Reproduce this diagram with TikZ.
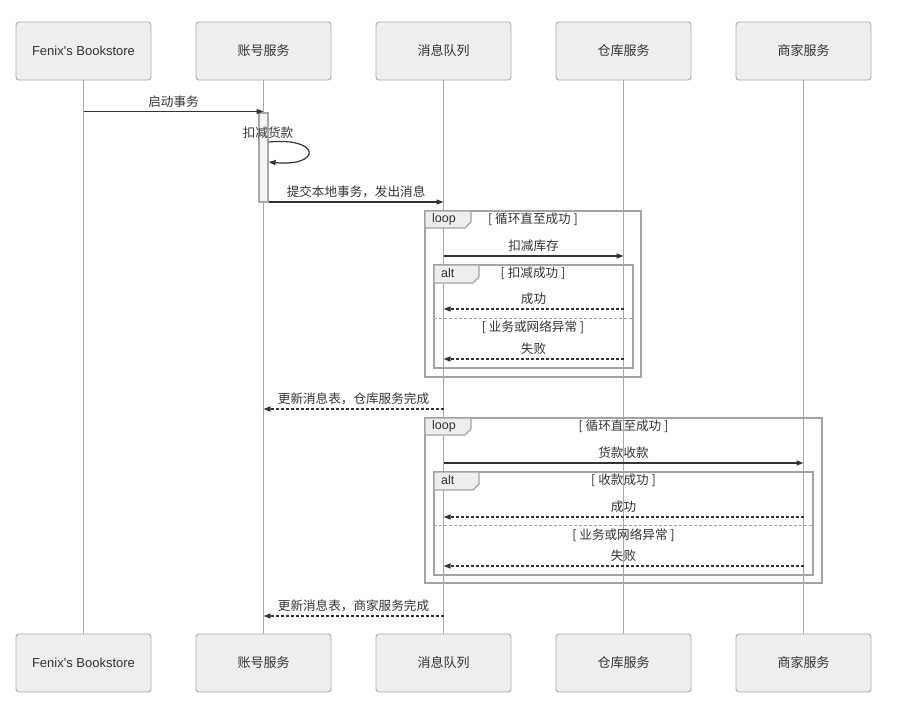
\documentclass[tikz,border=0pt]{standalone}
\usepackage{fontspec}
\setmainfont{Noto Sans CJK SC}
\newfontfamily\latinfont{Liberation Sans}
\usepackage{tikz}
\usetikzlibrary{arrows.meta, positioning}
\definecolor{boxfill}{HTML}{EEEEEE}
\definecolor{boxline}{HTML}{ABABAB}
\definecolor{ink}{HTML}{333333}
\definecolor{lifeline}{HTML}{A8A8A8}
\definecolor{framecol}{HTML}{A3A3A3}
\definecolor{actfill}{HTML}{F4F4F4}
\tikzset{
  actor/.style={
    rectangle, rounded corners=3pt,
    draw=boxline, line width=0.9pt,
    fill=boxfill, text=ink,
    minimum width=135pt, minimum height=58pt,
    inner sep=0pt, outer sep=0pt, font=\fontsize{13}{15}\selectfont
  },
  act/.style={
    rectangle, draw=lifeline, line width=1.2pt,
    fill=actfill, minimum width=9pt, minimum height=89pt,
    inner sep=0pt
  },
  life/.style={draw=lifeline, line width=0.8pt},
  msg/.style={-{Triangle[length=7pt,width=5pt]}, draw=ink, line width=1.2pt},
  ret/.style={msg, dash pattern=on 3pt off 2pt},
  lbl/.style={font=\fontsize{12.6}{14}\selectfont, text=ink, inner sep=0pt, midway, yshift=10pt},
  txt/.style={font=\fontsize{12.6}{14}\selectfont, text=ink, inner sep=0pt},
  kw/.style={font=\latinfont\fontsize{12.5}{14}\selectfont, text=ink, inner sep=0pt, anchor=west},
  frame/.style={draw=framecol, line width=1.5pt},
  tab/.style={draw=framecol, line width=1.2pt, fill=boxfill},
  sep/.style={draw=framecol, line width=1pt, dash pattern=on 3pt off 2pt}
}
\begin{document}
\begin{tikzpicture}[x=1pt, y=-1pt]

  \useasboundingbox (0,0) rectangle (915,707);

  % ---- Participants ----
  \node[actor] (store) at (83.5,51) {\latinfont Fenix's Bookstore};
  \node[actor, right=45pt of store] (acc) {账号服务};
  \node[actor, right=45pt of acc]   (mq)  {消息队列};
  \node[actor, right=45pt of mq]    (wh)  {仓库服务};
  \node[actor, right=45pt of wh]    (shop) {商家服务};

  \node[actor, below=554pt of store] (storeB) {\latinfont Fenix's Bookstore};
  \node[actor, below=554pt of acc]   (accB)   {账号服务};
  \node[actor, below=554pt of mq]    (mqB)    {消息队列};
  \node[actor, below=554pt of wh]    (whB)    {仓库服务};
  \node[actor, below=554pt of shop]  (shopB)  {商家服务};

  % ---- Lifelines ----
  \draw[life] (store) -- (storeB);
  \draw[life] (acc)   -- (accB);
  \draw[life] (mq)    -- (mqB);
  \draw[life] (wh)    -- (whB);
  \draw[life] (shop)  -- (shopB);

  % ---- Rows ----
  \coordinate (r1)  at (0,111.5);
  \coordinate (s1)  at (0,142);
  \coordinate (s2)  at (0,162);
  \coordinate (r2)  at (0,202);
  \coordinate (r3)  at (0,256);
  \coordinate (r4)  at (0,309);
  \coordinate (r5)  at (0,359);
  \coordinate (r6)  at (0,409);
  \coordinate (r7)  at (0,463);
  \coordinate (r8)  at (0,517);
  \coordinate (r9)  at (0,566);
  \coordinate (r10) at (0,616);

  % ---- Local transaction ----
  \node[act] (actv) at (263.5,157.5) {};

  \draw[msg] (store |- r1) -- node[lbl] (t1) {启动事务} (acc |- r1);
  \node[txt] (t2) at (268,133) {扣减货款};
  \draw[msg] (actv.east |- s1) .. controls +(53,-5) and +(53,5) .. (actv.east |- s2);
  \draw[msg] (actv.east |- r2) -- node[lbl] (t3) {提交本地事务，发出消息} (mq |- r2);

  % ---- Loop: warehouse ----
  \draw[frame] (425,211) rectangle (641,377);
  \draw[tab] (425,211) -- (471,211) -- (471,222) -- (465,228) -- (425,228) -- cycle;
  \node[kw] (loop1) at (432,219.5) {loop};
  \node[txt] (c1) at (533,219.5) {[ 循环直至成功 ]};

  \draw[msg] (mq |- r3) -- node[lbl] (t4) {扣减库存} (wh |- r3);

  \draw[frame] (434,265) rectangle (633,368);
  \draw[tab] (434,265) -- (479,265) -- (479,277) -- (473,283) -- (434,283) -- cycle;
  \node[kw] (alt1) at (441,273.5) {alt};
  \node[txt] (c2) at (533,273.5) {[ 扣减成功 ]};
  \draw[ret] (wh |- r4) -- node[lbl] (t5) {成功} (mq |- r4);
  \draw[sep] (434,318) -- (633,318);
  \node[txt] (c3) at (533,327.5) {[ 业务或网络异常 ]};
  \draw[ret] (wh |- r5) -- node[lbl] (t6) {失败} (mq |- r5);

  \draw[ret] (mq |- r6) -- node[lbl] (t7) {更新消息表，仓库服务完成} (acc |- r6);

  % ---- Loop: merchant ----
  \draw[frame] (425,418) rectangle (822,583);
  \draw[tab] (425,418) -- (471,418) -- (471,429) -- (465,435) -- (425,435) -- cycle;
  \node[kw] (loop2) at (432,426.5) {loop};
  \node[txt] (c4) at (623.5,426.5) {[ 循环直至成功 ]};

  \draw[msg] (mq |- r7) -- node[lbl] (t8) {货款收款} (shop |- r7);

  \draw[frame] (434,472) rectangle (813,575);
  \draw[tab] (434,472) -- (479,472) -- (479,484) -- (473,490) -- (434,490) -- cycle;
  \node[kw] (alt2) at (441,480.5) {alt};
  \node[txt] (c5) at (623.5,480.5) {[ 收款成功 ]};
  \draw[ret] (shop |- r8) -- node[lbl] (t9) {成功} (mq |- r8);
  \draw[sep] (434,525.5) -- (813,525.5);
  \node[txt] (c6) at (623.5,535) {[ 业务或网络异常 ]};
  \draw[ret] (shop |- r9) -- node[lbl] (t10) {失败} (mq |- r9);

  \draw[ret] (mq |- r10) -- node[lbl] (t11) {更新消息表，商家服务完成} (acc |- r10);

\end{tikzpicture}
\end{document}
